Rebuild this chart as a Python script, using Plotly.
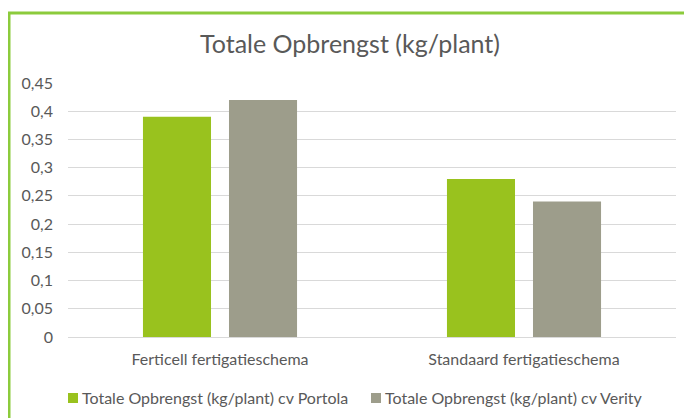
import plotly.graph_objects as go

categories = ["Ferticell fertigatieschema", "Standaard fertigatieschema"]
portola = [0.39, 0.28]
verity = [0.42, 0.24]
series_names = ["Totale Opbrengst (kg/plant) cv Portola", "Totale Opbrengst (kg/plant) cv Verity"]
series_colors = ["#99C21E", "#9D9D8B"]
tick_vals = [0, 0.05, 0.1, 0.15, 0.2, 0.25, 0.3, 0.35, 0.4, 0.45]
tick_text = ["0", "0,05", "0,1", "0,15", "0,2", "0,25", "0,3", "0,35", "0,4", "0,45"]

FONT = "Lato, 'Open Sans', sans-serif"
TXT = "#595959"

fig = go.Figure()
for vals, name, col in zip([portola, verity], series_names, series_colors):
    fig.add_trace(go.Bar(x=categories, y=vals, name=name, showlegend=False,
                         marker=dict(color=col, line=dict(width=0))))

# page has an 8px body margin: figure pixel = page pixel - 8
OFF = 8
W, H = 692 - OFF, 418 - OFF
L, R, T, B = 68 - OFF, 16, 83 - OFF, 418 - 337
pw, ph = W - L - R, H - T - B

def px_x(p):
    return (p - OFF - L) / pw

def px_y(p):
    return (H - B - (p - OFF)) / ph

shapes = [
    dict(type="line", xref="paper", yref="paper", x0=px_x(8), x1=px_x(700),
         y0=px_y(13), y1=px_y(13), line=dict(color="#8CCB3C", width=3)),
    dict(type="line", xref="paper", yref="paper", x0=px_x(9), x1=px_x(9),
         y0=px_y(12), y1=px_y(430), line=dict(color="#8CCB3C", width=3)),
]
annotations = []
# manual legend (single row, as in the reference)
legend_marker_x = [68, 371]
for name, col, mx in zip(series_names, series_colors, legend_marker_x):
    shapes.append(dict(type="rect", xref="paper", yref="paper",
                       x0=px_x(mx), x1=px_x(mx + 10), y0=px_y(403), y1=px_y(393),
                       fillcolor=col, line=dict(width=0)))
    annotations.append(dict(text=name, xref="paper", yref="paper",
                            x=px_x(mx + 12), y=px_y(397), xanchor="left", yanchor="middle",
                            showarrow=False, font=dict(family=FONT, size=16, color=TXT)))

fig.update_layout(
    width=W, height=H,
    margin=dict(l=L, r=R, t=T, b=B),
    paper_bgcolor="white", plot_bgcolor="white",
    barmode="group", bargap=0.434, bargroupgap=0.209,
    showlegend=False,
    title=dict(text="Totale Opbrengst (kg/plant)", x=(350 - OFF) / W, xref="container",
               xanchor="center", y=1 - (44 - OFF) / H, yanchor="middle",
               font=dict(family=FONT, size=25, color=TXT)),
    font=dict(family=FONT, size=16, color=TXT),
    xaxis=dict(showgrid=False, showline=True, linecolor="#D9D9D9", linewidth=1,
               ticks="", tickfont=dict(size=16, color=TXT), ticklabelstandoff=8),
    yaxis=dict(range=[0, 0.45], tickvals=tick_vals, ticktext=tick_text,
               showgrid=True, gridcolor="#D9D9D9", gridwidth=1,
               zeroline=False, showline=False, ticks="",
               tickfont=dict(size=16, color=TXT), ticklabelstandoff=14),
    shapes=shapes,
    annotations=annotations,
)

fig.write_html("out.html")
